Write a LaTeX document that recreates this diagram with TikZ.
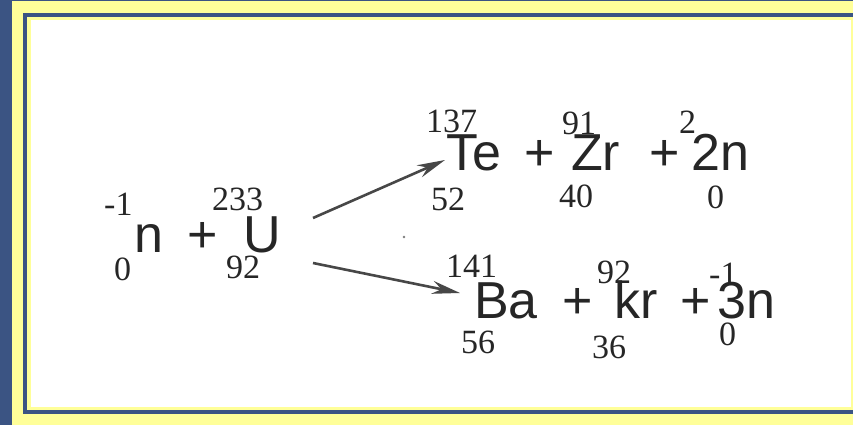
\documentclass[tikz,border=0pt]{standalone}
\usepackage{fontspec}
\setmainfont{Liberation Serif}
\newfontfamily\elemfont{Liberation Sans}
\usetikzlibrary{arrows.meta, positioning, calc}
\definecolor{slideblue}{HTML}{3B5483}
\definecolor{slideyellow}{HTML}{FFFF99}
\definecolor{inkgray}{HTML}{262626}

\begin{document}
\begin{tikzpicture}[x=1pt, y=-1pt,
    elem/.style={anchor=base west, inner sep=0pt, text=inkgray,
                 font=\elemfont\fontsize{52}{52}\selectfont},
    nuc/.style={anchor=base west, inner sep=0pt, text=inkgray,
                font=\fontsize{34}{34}\selectfont},
    rxn/.style={-{Stealth[length=28pt, width=13pt]}, line width=2.6pt, draw=inkgray!85}
  ]
    \useasboundingbox (0,0) rectangle (853,425);
    % slide frame
    \fill[slideblue] (0,0) rectangle (853,425);
    \fill[slideyellow] (12,1) rectangle (853,425);
    \draw[slideblue, line width=4pt] (25,15) rectangle (880,412);
    \fill[white] (31,20) rectangle (851,407);

    % left side
    \node[elem] (n0) at (134,252) {n};
    \node[nuc] (n0top) at (104,215) {-1};
    \node[nuc] (n0bot) at (114,280) {0};
    \node[elem] (plus0) at (187,252) {+};
    \node[elem] (U) at (243,252) {U};
    \node[nuc] (Utop) at (212,210) {233};
    \node[nuc] (Ubot) at (226,278) {92};

    % upper products
    \node[elem] (Te) at (446,170) {Te};
    \node[nuc] (Tetop) at (426,132) {137};
    \node[nuc] (Tebot) at (431,210) {52};
    \node[elem] (plus1) at (524,170) {+};
    \node[elem] (Zr) at (571,170) {Zr};
    \node[nuc] (Zrtop) at (562,135) {91};
    \node[nuc] (Zrbot) at (559,207) {40};
    \node[elem] (plus2) at (649,170) {+};
    \node[elem] (nTwo) at (691,170) {2n};
    \node[nuc] (nTwotop) at (679,133) {2};
    \node[nuc] (nTwobot) at (707,208) {0};

    % lower products
    \node[elem] (Ba) at (474,318) {Ba};
    \node[nuc] (Batop) at (446,277) {141};
    \node[nuc] (Babot) at (461,353) {56};
    \node[elem] (plus3) at (562,318) {+};
    \node[elem] (Kr) at (614,318) {kr};
    \node[nuc] (Krtop) at (597,283) {92};
    \node[nuc] (Krbot) at (592,358) {36};
    \node[elem] (plus4) at (680,318) {+};
    \node[elem] (nThree) at (717,318) {3n};
    \node[nuc] (nThreetop) at (709,285) {-1};
    \node[nuc] (nThreebot) at (719,345) {0};

    % fork
    \coordinate (upfrom) at (313,218);
    \coordinate (dnfrom) at (313,263);
    \draw[rxn] (upfrom) -- ([xshift=-1pt, yshift=10pt]Te.base west);
    \draw[rxn] (dnfrom) -- ([xshift=-14pt, yshift=25pt]Ba.base west);
    \fill[inkgray!60] (404,237) circle (1.3pt);
  \end{tikzpicture}
\end{document}
